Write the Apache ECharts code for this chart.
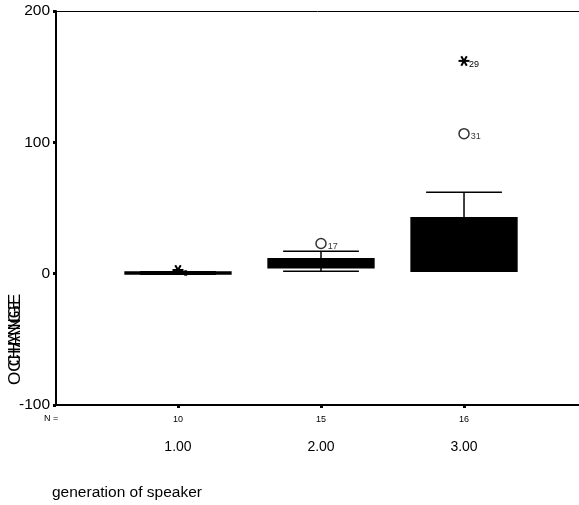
<!DOCTYPE html>
<html><head><meta charset="utf-8">
<script src="https://cdn.jsdelivr.net/npm/echarts@6/dist/echarts.min.js"></script>
<style>html,body{margin:0;padding:0;background:#fff}#c{width:579px;height:505px}</style>
</head><body><div id="c"></div>
<script>
// ---- data ----
const groups = [1, 2, 3];
const groupLabels = ['1.00', '2.00', '3.00'];
const groupN = [10, 15, 16];
const boxMin = [-0.5, 1.8, 1.8];
const boxQ1 = [-0.3, 4.6, 1.8];
const boxMedian = [0.3, 8, 20];
const boxQ3 = [1.2, 11.4, 42.6];
const boxMax = [1.5, 17, 62];
const outlierX = [2, 3];
const outlierY = [23, 106.6];
const outlierCase = ['17', '31'];
const extremeX = [1, 3];
const extremeY = [2.8, 162];
const extremeCase = ['6', '29'];

const FONT = '"Liberation Sans", Arial, sans-serif';
const X_MIN = 0.147, X_MAX = 3.804;
const chart = echarts.init(document.getElementById('c'), null, {renderer: 'canvas'});

const boxData = groups.map((g, i) => [g, boxMin[i], boxQ1[i], boxMedian[i], boxQ3[i], boxMax[i]]);
const outlierData = outlierX.map((x, i) => [x, outlierY[i], outlierCase[i]]);
const extremeData = extremeX.map((x, i) => [x, extremeY[i], extremeCase[i]]);

function renderBox(params, api) {
  const x = api.value(0);
  const unit = api.size([1, 0])[0];
  const bw = unit * 0.74, cw = unit * 0.53;
  const cx = api.coord([x, 0])[0];
  const y = k => api.coord([x, api.value(k)])[1];
  const yMin = y(1), yQ1 = y(2), yMd = y(3), yQ3 = y(4), yMax = y(5);
  const ls = {stroke: '#000', lineWidth: 1.5};
  return {
    type: 'group',
    children: [
      {type: 'line', shape: {x1: cx, y1: yMax, x2: cx, y2: yQ3}, style: ls},
      {type: 'line', shape: {x1: cx, y1: yQ1, x2: cx, y2: yMin}, style: ls},
      {type: 'line', shape: {x1: cx - cw / 2, y1: yMax, x2: cx + cw / 2, y2: yMax}, style: ls},
      {type: 'line', shape: {x1: cx - cw / 2, y1: yMin, x2: cx + cw / 2, y2: yMin}, style: ls},
      {type: 'rect', shape: {x: cx - bw / 2, y: yQ3, width: bw, height: yQ1 - yQ3},
        style: {fill: '#000', stroke: '#000', lineWidth: 1.5}},
      {type: 'line', shape: {x1: cx - bw / 2, y1: yMd, x2: cx + bw / 2, y2: yMd}, style: ls}
    ]
  };
}

function renderStar(params, api) {
  const p = api.coord([api.value(0), api.value(1)]);
  const r = 5.5;
  const kids = [];
  [0, 60, 120].forEach(a => {
    const rad = a * Math.PI / 180;
    const dx = Math.cos(rad) * r, dy = Math.sin(rad) * r;
    kids.push({type: 'line', shape: {x1: p[0] - dx, y1: p[1] - dy, x2: p[0] + dx, y2: p[1] + dy},
      style: {stroke: '#000', lineWidth: 2}});
  });
  kids.push({type: 'text', x: p[0] + 5, y: p[1] + 4,
    style: {text: String(api.value(2)), fill: '#000', fontSize: 9, fontFamily: FONT,
      align: 'left', verticalAlign: 'middle'}});
  return {type: 'group', children: kids};
}

const option = {
  backgroundColor: '#fff',
  animation: false,
  grid: {left: 56, top: 11, right: 0, bottom: 100, show: false},
  xAxis: [{
    type: 'value', min: X_MIN, max: X_MAX,
    axisLine: {show: true, onZero: false, lineStyle: {color: '#000', width: 2}},
    axisTick: {show: true, customValues: groups, length: 3, lineStyle: {color: '#000', width: 3}},
    splitLine: {show: false},
    axisLabel: {
      customValues: groups, margin: 9, color: '#000', fontFamily: FONT,
      formatter: v => {
        const i = groups.indexOf(v);
        return '{n|' + groupN[i] + '}\n{c|' + groupLabels[i] + '}';
      },
      rich: {
        n: {fontSize: 9, lineHeight: 12, fontFamily: FONT, color: '#000'},
        c: {fontSize: 14, lineHeight: 42, fontFamily: FONT, color: '#000'}
      }
    }
  }, {
    type: 'value', position: 'top', min: X_MIN, max: X_MAX,
    axisLine: {show: true, onZero: false, lineStyle: {color: '#000', width: 1}},
    axisTick: {show: false}, axisLabel: {show: false}, splitLine: {show: false}
  }],
  yAxis: {
    type: 'value', min: -100, max: 200, interval: 100,
    axisLine: {show: true, onZero: false, lineStyle: {color: '#000', width: 2}},
    axisTick: {show: true, length: 3, lineStyle: {color: '#000', width: 3}},
    splitLine: {show: false},
    axisLabel: {color: '#000', fontSize: 15.5, fontFamily: FONT, margin: 6}
  },
  graphic: [
    {type: 'text', left: 44, top: 414, style: {text: 'N =', fontSize: 9, fontFamily: FONT, fill: '#000'}},
    {type: 'text', x: 52, y: 493, style: {text: 'generation of speaker', fontSize: 15.5, fontFamily: FONT,
      fill: '#000', verticalAlign: 'middle'}},
    {type: 'text', x: 15, y: 342, rotation: Math.PI / 2,
      style: {text: 'OCHANGE', fontSize: 17, fontFamily: FONT, fill: '#000', align: 'center', verticalAlign: 'middle'}},
    {type: 'text', x: 15, y: 330, rotation: Math.PI / 2,
      style: {text: 'CHANGE', fontSize: 17, fontFamily: FONT, fill: '#000', align: 'center', verticalAlign: 'middle'}}
  ],
  series: [
    {type: 'custom', renderItem: renderBox, data: boxData, encode: {x: 0, y: [1, 2, 3, 4, 5]}, z: 2},
    {type: 'scatter', data: outlierData, symbol: 'circle', symbolSize: 10, z: 3,
      itemStyle: {color: 'rgba(255,255,255,0)', borderColor: '#000', borderWidth: 1.5},
      label: {show: true, position: 'right', distance: 1, offset: [0, 3], formatter: p => p.value[2],
        fontSize: 9, fontFamily: FONT, color: '#000'}},
    {type: 'custom', renderItem: renderStar, data: extremeData, encode: {x: 0, y: 1}, z: 4}
  ]
};
chart.setOption(option);
</script>
</body></html>
